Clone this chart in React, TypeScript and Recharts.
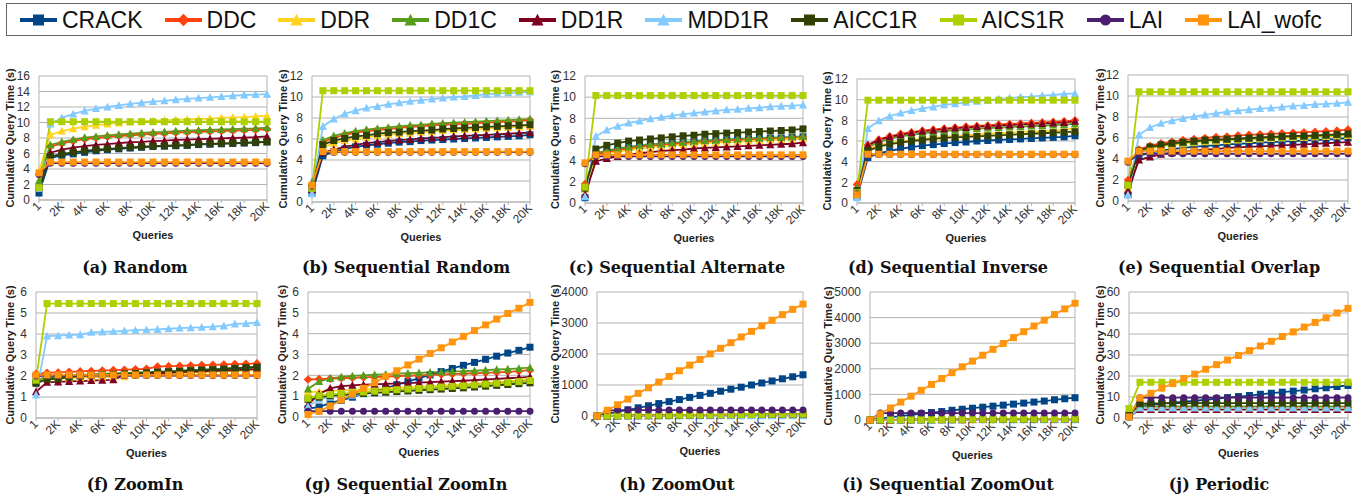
import React from 'react';
import { LineChart, Line, XAxis, YAxis, CartesianGrid, ReferenceLine } from 'recharts';

const queries = ['1','1K','2K','3K','4K','5K','6K','7K','8K','9K','10K','11K','12K','13K','14K','15K','16K','17K','18K','19K','20K'];
const seriesNames = ['CRACK','DDC','DDR','DD1C','DD1R','MDD1R','AICC1R','AICS1R','LAI','LAI_wofc'];
const seriesColors = ['#004586','#ff420e','#ffd320','#579d1c','#7e0021','#83caff','#314004','#aecf00','#4b1f6f','#ff950e'];
const seriesShapes = ['square','diamond','triangle','triangle','triangle','triangle','square','square','circle','square'];
const panelTitles = ['(a) Random','(b) Sequential Random','(c) Sequential Alternate','(d) Sequential Inverse','(e) Sequential Overlap','(f) ZoomIn','(g) Sequential ZoomIn','(h) ZoomOut','(i) Sequential ZoomOut','(j) Periodic'];

const ticks16 = [0,2,4,6,8,10,12,14,16];
const ticks12 = [0,2,4,6,8,10,12];
const ticks6 = [0,1,2,3,4,5,6];
const ticks4000 = [0,1000,2000,3000,4000];
const ticks5000 = [0,1000,2000,3000,4000,5000];
const ticks60 = [0,10,20,30,40,50,60];

// (a) Random
const A_CRACK = [0.9,5.4,5.75,5.95,6.15,6.35,6.5,6.6,6.7,6.8,6.9,6.95,7.0,7.05,7.15,7.2,7.25,7.3,7.35,7.4,7.5];
const A_DDC = [3.3,6.9,7.3,7.6,7.85,8.0,8.15,8.25,8.35,8.45,8.55,8.6,8.7,8.75,8.8,8.85,8.9,8.95,9.0,9.05,9.15];
const A_DDR = [3.7,8.4,8.9,9.2,9.45,9.65,9.8,9.95,10.05,10.15,10.2,10.3,10.35,10.4,10.45,10.5,10.6,10.65,10.7,10.8,10.85];
const A_DD1C = [2.5,7.1,7.5,7.8,8.05,8.2,8.35,8.45,8.55,8.65,8.75,8.8,8.9,8.95,9.0,9.05,9.1,9.15,9.2,9.25,9.35];
const A_DD1R = [1.5,6.1,6.5,6.75,6.95,7.1,7.2,7.35,7.45,7.5,7.6,7.65,7.75,7.8,7.85,7.9,7.95,8.0,8.05,8.1,8.2];
const A_MDD1R = [1.5,9.8,10.6,11.1,11.5,11.8,12.0,12.2,12.4,12.55,12.7,12.8,12.95,13.05,13.15,13.25,13.35,13.45,13.55,13.6,13.65];
const A_AICC1R = [1.6,5.6,5.95,6.15,6.35,6.5,6.6,6.7,6.8,6.9,6.95,7.0,7.05,7.1,7.2,7.25,7.3,7.35,7.4,7.45,7.5];
const A_AICS1R = [1.6,10.1,10.1,10.1,10.1,10.1,10.1,10.1,10.1,10.1,10.1,10.1,10.1,10.1,10.1,10.1,10.1,10.1,10.1,10.1,10.1];
const A_LAI = [3.3,4.75,4.75,4.75,4.75,4.75,4.75,4.75,4.75,4.75,4.75,4.75,4.75,4.75,4.75,4.75,4.75,4.75,4.75,4.75,4.75];
const A_LAIW = [3.5,4.9,4.9,4.9,4.9,4.9,4.9,4.9,4.9,4.9,4.9,4.9,4.9,4.9,4.9,4.9,4.9,4.9,4.9,4.9,4.9];

// (b) Sequential Random
const B_CRACK = [0.8,4.4,4.8,5.05,5.25,5.4,5.5,5.6,5.7,5.75,5.85,5.9,5.95,6.0,6.05,6.1,6.15,6.2,6.25,6.3,6.4];
const B_DDC = [1.7,5.7,6.1,6.4,6.6,6.75,6.85,6.95,7.05,7.15,7.2,7.3,7.35,7.4,7.45,7.5,7.55,7.6,7.65,7.7,7.8];
const B_DDR = [1.5,5.2,5.6,5.85,6.0,6.15,6.3,6.4,6.5,6.55,6.65,6.7,6.8,6.85,6.9,6.95,7.0,7.05,7.1,7.15,7.2];
const B_DD1C = [1.9,5.9,6.3,6.55,6.75,6.9,7.0,7.1,7.2,7.3,7.35,7.45,7.5,7.55,7.6,7.65,7.7,7.75,7.8,7.85,7.9];
const B_DD1R = [1.2,4.7,5.0,5.25,5.45,5.6,5.7,5.8,5.9,5.95,6.05,6.1,6.15,6.25,6.3,6.35,6.4,6.45,6.5,6.55,6.6];
const B_MDD1R = [0.8,7.2,7.9,8.4,8.7,8.95,9.1,9.3,9.45,9.6,9.7,9.8,9.9,10.0,10.05,10.15,10.25,10.35,10.4,10.45,10.5];
const B_AICC1R = [1.4,5.45,5.85,6.05,6.25,6.35,6.5,6.6,6.65,6.75,6.8,6.85,6.95,7.0,7.05,7.1,7.15,7.2,7.25,7.3,7.35];
const B_AICS1R = [1.3,10.6,10.6,10.6,10.6,10.6,10.6,10.6,10.6,10.6,10.6,10.6,10.6,10.6,10.6,10.6,10.6,10.6,10.6,10.6,10.6];
const B_LAI = [1.5,4.75,4.75,4.75,4.75,4.75,4.75,4.75,4.75,4.75,4.75,4.75,4.75,4.75,4.75,4.75,4.75,4.75,4.75,4.75,4.75];
const B_LAIW = [1.6,4.8,4.8,4.8,4.8,4.8,4.8,4.8,4.8,4.8,4.8,4.8,4.8,4.8,4.8,4.8,4.8,4.8,4.8,4.8,4.8];

// (c) Sequential Alternate
const C_CRACK = [0.5,4.6,4.85,5.05,5.2,5.35,5.45,5.5,5.6,5.7,5.75,5.85,5.9,5.95,6.0,6.05,6.1,6.1,6.15,6.2,6.25];
const C_DDC = [1.8,4.6,4.8,5.0,5.15,5.3,5.4,5.5,5.55,5.65,5.7,5.8,5.85,5.9,5.95,6.0,6.05,6.05,6.1,6.15,6.2];
const C_DDR = [1.3,4.4,4.65,4.85,5.0,5.15,5.25,5.35,5.45,5.5,5.6,5.65,5.7,5.75,5.8,5.85,5.9,5.95,6.0,6.05,6.1];
const C_DD1C = [1.6,4.7,4.95,5.15,5.3,5.45,5.55,5.6,5.7,5.75,5.85,5.9,5.95,6.0,6.05,6.1,6.15,6.2,6.2,6.25,6.3];
const C_DD1R = [0.8,3.95,4.2,4.4,4.55,4.7,4.8,4.9,5.0,5.05,5.15,5.2,5.25,5.3,5.35,5.4,5.45,5.5,5.55,5.6,5.7];
const C_MDD1R = [0.6,6.3,6.9,7.25,7.55,7.75,7.95,8.1,8.25,8.4,8.5,8.6,8.7,8.8,8.85,8.95,9.0,9.1,9.15,9.2,9.25];
const C_AICC1R = [1.4,5.1,5.45,5.65,5.85,5.95,6.05,6.15,6.25,6.35,6.4,6.5,6.55,6.6,6.65,6.7,6.75,6.8,6.85,6.9,7.0];
const C_AICS1R = [1.5,10.15,10.15,10.15,10.15,10.15,10.15,10.15,10.15,10.15,10.15,10.15,10.15,10.15,10.15,10.15,10.15,10.15,10.15,10.15,10.15];
const C_LAI = [3.7,4.4,4.4,4.4,4.4,4.4,4.4,4.4,4.4,4.4,4.4,4.4,4.4,4.4,4.4,4.4,4.4,4.4,4.4,4.4,4.4];
const C_LAIW = [3.8,4.55,4.55,4.55,4.55,4.55,4.55,4.55,4.55,4.55,4.55,4.55,4.55,4.55,4.55,4.55,4.55,4.55,4.55,4.55,4.55];

// (d) Sequential Inverse
const D_CRACK = [0.6,4.4,4.8,5.05,5.25,5.4,5.55,5.65,5.75,5.85,5.9,6.0,6.05,6.1,6.15,6.2,6.25,6.3,6.35,6.4,6.5];
const D_DDC = [1.8,5.6,6.15,6.45,6.7,6.85,7.0,7.1,7.2,7.3,7.4,7.45,7.5,7.6,7.65,7.7,7.75,7.8,7.85,7.9,8.0];
const D_DDR = [1.2,5.2,5.6,5.8,5.95,6.1,6.2,6.3,6.4,6.5,6.55,6.65,6.7,6.75,6.8,6.85,6.9,6.95,7.0,7.1,7.2];
const D_DD1C = [1.5,5.4,5.9,6.2,6.45,6.6,6.75,6.85,6.95,7.05,7.1,7.2,7.25,7.3,7.35,7.4,7.45,7.5,7.55,7.6,7.65];
const D_DD1R = [1.1,5.6,6.1,6.4,6.6,6.8,6.95,7.05,7.15,7.25,7.3,7.4,7.45,7.5,7.55,7.6,7.65,7.7,7.75,7.8,7.9];
const D_MDD1R = [0.5,7.2,7.95,8.4,8.7,8.95,9.15,9.3,9.5,9.6,9.75,9.85,9.95,10.05,10.15,10.25,10.3,10.4,10.45,10.55,10.6];
const D_AICC1R = [1.2,5.05,5.45,5.7,5.85,6.0,6.1,6.2,6.3,6.35,6.4,6.45,6.5,6.55,6.6,6.65,6.7,6.75,6.8,6.85,6.9];
const D_AICS1R = [1.0,9.95,9.95,9.95,9.95,9.95,9.95,9.95,9.95,9.95,9.95,9.95,9.95,9.95,9.95,9.95,9.95,9.95,9.95,9.95,9.95];
const D_LAI = [0.9,4.7,4.7,4.7,4.7,4.7,4.7,4.7,4.7,4.7,4.7,4.7,4.7,4.7,4.7,4.7,4.7,4.7,4.7,4.7,4.7];
const D_LAIW = [0.8,4.72,4.72,4.72,4.72,4.72,4.72,4.72,4.72,4.72,4.72,4.72,4.72,4.72,4.72,4.72,4.72,4.72,4.72,4.72,4.72];

// (e) Sequential Overlap
const E_CRACK = [0.6,4.3,4.6,4.8,4.95,5.05,5.15,5.25,5.3,5.4,5.45,5.5,5.55,5.6,5.65,5.7,5.75,5.8,5.85,5.9,6.0];
const E_DDC = [2.0,4.9,5.25,5.5,5.65,5.8,5.9,6.0,6.1,6.15,6.25,6.3,6.35,6.4,6.45,6.5,6.55,6.6,6.65,6.7,6.8];
const E_DDR = [1.2,4.7,5.0,5.2,5.35,5.45,5.55,5.65,5.7,5.75,5.8,5.85,5.9,5.95,6.0,6.05,6.05,6.1,6.15,6.2,6.25];
const E_DD1C = [1.6,4.75,5.1,5.3,5.45,5.55,5.65,5.75,5.8,5.85,5.9,5.95,6.0,6.05,6.1,6.15,6.15,6.2,6.25,6.3,6.35];
const E_DD1R = [1.0,3.9,4.2,4.45,4.6,4.7,4.8,4.9,4.95,5.05,5.1,5.15,5.2,5.25,5.3,5.35,5.4,5.45,5.5,5.55,5.6];
const E_MDD1R = [0.6,6.3,7.0,7.4,7.65,7.85,8.05,8.2,8.35,8.5,8.6,8.7,8.8,8.85,8.95,9.05,9.1,9.2,9.25,9.3,9.4];
const E_AICC1R = [1.5,4.8,5.15,5.35,5.5,5.6,5.7,5.8,5.85,5.9,5.95,6.0,6.05,6.1,6.15,6.2,6.2,6.25,6.3,6.35,6.4];
const E_AICS1R = [1.5,10.4,10.4,10.4,10.4,10.4,10.4,10.4,10.4,10.4,10.4,10.4,10.4,10.4,10.4,10.4,10.4,10.4,10.4,10.4,10.4];
const E_LAI = [3.7,4.5,4.5,4.5,4.5,4.5,4.5,4.5,4.5,4.5,4.5,4.5,4.5,4.5,4.5,4.5,4.5,4.5,4.5,4.5,4.5];
const E_LAIW = [3.8,4.75,4.75,4.75,4.75,4.75,4.75,4.75,4.75,4.75,4.75,4.75,4.75,4.75,4.75,4.75,4.75,4.75,4.75,4.75,4.75];

// (f) ZoomIn
const F_CRACK = [1.7,1.9,1.95,2.0,2.02,2.05,2.07,2.1,2.12,2.15,2.17,2.2,2.22,2.25,2.27,2.3,2.32,2.35,2.37,2.4,2.42];
const F_DDC = [2.1,2.15,2.17,2.2,2.22,2.24,2.26,2.28,2.3,2.32,2.34,2.45,2.47,2.48,2.5,2.52,2.53,2.55,2.57,2.58,2.6];
const F_DDR = [1.8,1.85,1.88,1.9,1.92,1.93,1.95,1.96,1.97,2.05,2.07,2.1,2.12,2.14,2.16,2.18,2.2,2.22,2.24,2.26,2.28];
const F_DD1C = [1.8,1.95,2.0,2.03,2.06,2.08,2.1,2.12,2.14,2.16,2.18,2.2,2.22,2.25,2.28,2.3,2.32,2.35,2.38,2.4,2.43];
const F_DD1R = [1.25,1.7,1.72,1.74,1.76,1.78,1.8,1.82,2.05,2.08,2.1,2.12,2.15,2.18,2.2,2.22,2.24,2.26,2.28,2.3,2.33];
const F_MDD1R = [1.1,3.9,3.92,3.95,3.97,4.08,4.1,4.12,4.15,4.18,4.2,4.22,4.25,4.28,4.3,4.32,4.35,4.38,4.48,4.5,4.55];
const F_AICC1R = [1.65,1.85,1.87,1.95,2.0,2.05,2.07,2.08,2.1,2.12,2.15,2.18,2.2,2.22,2.25,2.28,2.3,2.33,2.36,2.4,2.42];
const F_AICS1R = [1.8,5.45,5.45,5.45,5.45,5.45,5.45,5.45,5.45,5.45,5.45,5.45,5.45,5.45,5.45,5.45,5.45,5.45,5.45,5.45,5.45];
const F_LAI = [2.0,2.02,2.02,2.02,2.02,2.02,2.02,2.02,2.02,2.02,2.02,2.02,2.02,2.02,2.02,2.02,2.02,2.02,2.02,2.02,2.02];
const F_LAIW = [2.05,2.05,2.05,2.05,2.05,2.05,2.05,2.05,2.05,2.05,2.05,2.05,2.05,2.05,2.05,2.05,2.05,2.05,2.05,2.05,2.05];

// (g) Sequential ZoomIn
const G_CRACK = [0.4,0.48,0.68,0.8,0.95,1.13,1.25,1.38,1.55,1.7,1.87,2.02,2.18,2.33,2.48,2.62,2.77,2.92,3.07,3.2,3.35];
const G_DDC = [1.8,1.82,1.84,1.86,1.88,1.9,1.92,1.94,1.96,1.98,2.0,2.02,2.04,2.06,2.08,2.1,2.12,2.14,2.17,2.2,2.25];
const G_DDR = [1.2,1.22,1.25,1.28,1.3,1.32,1.35,1.38,1.4,1.43,1.45,1.48,1.51,1.54,1.57,1.6,1.63,1.67,1.71,1.76,1.82];
const G_DD1C = [1.35,1.7,1.85,1.92,1.97,2.0,2.03,2.05,2.08,2.1,2.12,2.14,2.16,2.18,2.2,2.22,2.25,2.28,2.3,2.33,2.37];
const G_DD1R = [0.6,1.1,1.38,1.48,1.52,1.55,1.57,1.59,1.61,1.63,1.65,1.67,1.7,1.72,1.74,1.77,1.8,1.83,1.86,1.89,1.93];
const G_MDD1R = [0.5,0.85,0.95,1.0,1.05,1.1,1.15,1.2,1.24,1.28,1.32,1.36,1.4,1.44,1.48,1.52,1.56,1.6,1.64,1.68,1.72];
const G_AICC1R = [0.85,0.95,1.02,1.06,1.1,1.13,1.16,1.19,1.22,1.25,1.28,1.31,1.34,1.37,1.4,1.44,1.48,1.52,1.56,1.6,1.64];
const G_AICS1R = [0.9,1.02,1.08,1.12,1.16,1.2,1.24,1.28,1.31,1.34,1.37,1.4,1.44,1.47,1.5,1.54,1.58,1.62,1.66,1.7,1.75];
const G_LAI = [0.28,0.28,0.28,0.28,0.28,0.28,0.28,0.28,0.28,0.28,0.28,0.28,0.28,0.28,0.28,0.28,0.28,0.28,0.28,0.28,0.28];
const G_LAIW = [0.12,0.27,0.53,0.82,1.1,1.38,1.65,1.95,2.22,2.5,2.78,3.05,3.32,3.6,3.87,4.15,4.42,4.7,4.97,5.22,5.5];

// (h) ZoomOut
const H_CRACK = [0,70,135,200,265,330,400,465,530,600,665,730,800,865,930,1000,1065,1130,1200,1265,1330];
const H_DDC = [0,4,7,10,12,15,17,19,21,24,26,28,30,33,35,37,39,41,43,46,48];
const H_DDR = [0,3,5,7,9,11,12,14,16,18,19,21,23,25,26,28,30,32,33,35,37];
const H_DD1C = [0,6,10,13,16,19,22,25,28,31,34,37,40,42,45,48,51,54,57,60,62];
const H_DD1R = [0,4,6,8,10,12,14,16,18,20,22,24,26,28,30,32,33,35,37,39,41];
const H_MDD1R = [0,1,2,2,3,3,4,4,5,5,6,6,7,7,8,8,9,9,10,10,11];
const H_AICC1R = [0,5,9,12,15,18,21,24,27,30,33,36,39,41,44,47,50,53,56,58,61];
const H_AICS1R = [0,6,10,14,17,20,23,26,29,32,35,38,41,44,47,50,53,56,59,62,65];
const H_LAI = [0,170,190,190,190,190,190,190,190,190,190,190,190,190,190,190,190,190,190,190,190];
const H_LAIW = [0,185,365,545,730,910,1095,1275,1460,1640,1825,2005,2185,2365,2550,2730,2910,3090,3270,3440,3610];

// (i) Sequential ZoomOut
const I_CRACK = [0,50,110,150,200,250,290,330,380,420,460,500,540,580,620,660,700,740,790,830,870];
const I_DDC = [0,3,5,7,8,10,11,13,14,16,17,19,20,22,23,25,26,28,29,31,32];
const I_DDR = [0,2,4,5,6,8,9,10,11,13,14,15,16,18,19,20,21,23,24,25,26];
const I_DD1C = [0,4,6,8,10,12,14,16,18,20,21,23,25,27,29,31,33,35,36,38,40];
const I_DD1R = [0,3,4,6,7,9,10,11,13,14,15,17,18,19,21,22,23,25,26,27,29];
const I_MDD1R = [0,1,1,2,2,3,3,4,4,5,5,5,6,6,7,7,8,8,8,9,9];
const I_AICC1R = [0,4,7,9,11,13,15,17,19,21,23,25,27,29,31,33,35,37,39,41,43];
const I_AICS1R = [0,5,8,10,12,14,16,18,20,22,24,26,28,30,32,34,36,38,40,42,44];
const I_LAI = [0,270,270,270,270,270,270,270,270,270,270,270,270,270,270,270,270,270,270,270,270];
const I_LAIW = [0,240,470,700,930,1160,1390,1620,1850,2080,2300,2530,2760,2990,3220,3450,3670,3900,4120,4340,4560];

// (j) Periodic
const J_CRACK = [1.2,5.8,6.3,6.8,7.3,7.8,8.2,8.7,9.2,9.7,10.2,10.7,11.3,11.8,12.3,12.8,13.3,13.9,14.4,15.0,15.5];
const J_DDC = [1.0,5.0,5.0,5.0,5.0,5.0,5.0,5.0,5.0,5.0,5.0,5.0,5.0,5.0,5.0,5.0,5.0,5.0,5.0,5.0,5.0];
const J_DDR = [0.8,5.2,5.2,5.2,5.2,5.2,5.2,5.2,5.2,5.2,5.2,5.2,5.2,5.2,5.2,5.2,5.2,5.2,5.2,5.2,5.2];
const J_DD1C = [1.0,5.5,5.5,5.5,5.5,5.5,5.5,5.5,5.5,5.5,5.5,5.5,5.5,5.5,5.5,5.5,5.5,5.5,5.5,5.5,5.5];
const J_DD1R = [0.6,4.0,4.0,4.0,4.0,4.0,4.0,4.0,4.0,4.0,4.0,4.0,4.0,4.0,4.0,4.0,4.0,4.0,4.0,4.0,4.0];
const J_MDD1R = [0.5,4.8,4.8,4.8,4.8,4.8,4.8,4.8,4.8,4.8,4.8,4.8,4.8,4.8,4.8,4.8,4.8,4.8,4.8,4.8,4.8];
const J_AICC1R = [1.5,6.8,7.0,7.0,7.1,7.1,7.1,7.1,7.1,7.1,7.1,7.1,7.1,7.1,7.1,7.1,7.1,7.1,7.1,7.1,7.1];
const J_AICS1R = [4.5,17.0,17.0,17.0,17.0,17.0,17.0,17.0,17.0,17.0,17.0,17.0,17.0,17.0,17.0,17.0,17.0,17.0,17.0,17.0,17.0];
const J_LAI = [0.5,9.7,9.7,9.7,9.7,9.7,9.7,9.7,9.7,9.7,9.7,9.7,9.7,9.7,9.7,9.7,9.7,9.7,9.7,9.7,9.7];
const J_LAIW = [0.5,9.5,11.8,14.2,16.4,18.8,20.9,23.2,25.4,27.6,29.8,32.1,34.3,36.5,38.8,41.0,43.3,45.5,47.7,50.0,52.2];

const panelSeries = [
  [A_CRACK,A_DDC,A_DDR,A_DD1C,A_DD1R,A_MDD1R,A_AICC1R,A_AICS1R,A_LAI,A_LAIW],
  [B_CRACK,B_DDC,B_DDR,B_DD1C,B_DD1R,B_MDD1R,B_AICC1R,B_AICS1R,B_LAI,B_LAIW],
  [C_CRACK,C_DDC,C_DDR,C_DD1C,C_DD1R,C_MDD1R,C_AICC1R,C_AICS1R,C_LAI,C_LAIW],
  [D_CRACK,D_DDC,D_DDR,D_DD1C,D_DD1R,D_MDD1R,D_AICC1R,D_AICS1R,D_LAI,D_LAIW],
  [E_CRACK,E_DDC,E_DDR,E_DD1C,E_DD1R,E_MDD1R,E_AICC1R,E_AICS1R,E_LAI,E_LAIW],
  [F_CRACK,F_DDC,F_DDR,F_DD1C,F_DD1R,F_MDD1R,F_AICC1R,F_AICS1R,F_LAI,F_LAIW],
  [G_CRACK,G_DDC,G_DDR,G_DD1C,G_DD1R,G_MDD1R,G_AICC1R,G_AICS1R,G_LAI,G_LAIW],
  [H_CRACK,H_DDC,H_DDR,H_DD1C,H_DD1R,H_MDD1R,H_AICC1R,H_AICS1R,H_LAI,H_LAIW],
  [I_CRACK,I_DDC,I_DDR,I_DD1C,I_DD1R,I_MDD1R,I_AICC1R,I_AICS1R,I_LAI,I_LAIW],
  [J_CRACK,J_DDC,J_DDR,J_DD1C,J_DD1R,J_MDD1R,J_AICC1R,J_AICS1R,J_LAI,J_LAIW],
];
const panelTicks = [ticks16,ticks12,ticks12,ticks12,ticks12,ticks6,ticks6,ticks4000,ticks5000,ticks60];

// layout (page px): plot left/right/top/bottom, y-label x
const layouts = [
  { PL: 39, PR: 267, PT: 76, PB: 200, LX: 10 },
  { PL: 312, PR: 530, PT: 76, PB: 202, LX: 283 },
  { PL: 585, PR: 803, PT: 76, PB: 203, LX: 555 },
  { PL: 857, PR: 1075, PT: 79, PB: 203, LX: 827 },
  { PL: 1128, PR: 1348, PT: 75, PB: 201, LX: 1100 },
  { PL: 36, PR: 257, PT: 292, PB: 418, LX: 10 },
  { PL: 308, PR: 530, PT: 292, PB: 417, LX: 282 },
  { PL: 597, PR: 803, PT: 292, PB: 416, LX: 555 },
  { PL: 870, PR: 1075, PT: 292, PB: 420, LX: 828 },
  { PL: 1129, PR: 1348, PT: 292, PB: 418, LX: 1100 },
];

const SANS = "'Liberation Sans', Arial, sans-serif";
const SERIF = "'DejaVu Serif', serif";
const GRID = '#b3b3b3';

function Marker({ cx, cy, shape, color, size }: any) {
  if (cx == null || cy == null || isNaN(cx) || isNaN(cy)) return null;
  const h = size / 2;
  if (shape === 'square') return <rect x={cx - h} y={cy - h} width={size} height={size} fill={color} />;
  if (shape === 'diamond') return <polygon points={`${cx},${cy - h - 0.8} ${cx + h + 0.8},${cy} ${cx},${cy + h + 0.8} ${cx - h - 0.8},${cy}`} fill={color} />;
  if (shape === 'triangle') return <polygon points={`${cx},${cy - h - 0.8} ${cx + h + 0.6},${cy + h} ${cx - h - 0.6},${cy + h}`} fill={color} />;
  return <circle cx={cx} cy={cy} r={h} fill={color} />;
}

const XTick = (props: any) => {
  const { x, y, payload } = props;
  return (
    <text x={x} y={y} dy={4} textAnchor="end" transform={`rotate(-45 ${x} ${y})`} fontSize={12} fill="#333" fontFamily={SANS}>
      {payload.value}
    </text>
  );
};

function Panel({ idx }: { idx: number }) {
  const L = layouts[idx];
  const series = panelSeries[idx];
  const ticks = panelTicks[idx];
  const data = queries.map((q, i) => {
    const row: any = { q };
    series.forEach((s, k) => { row['s' + k] = s[i]; });
    return row;
  });
  const YW = L.PL - L.LX + 6;
  const CL = L.PL - YW - 5;
  const CT = L.PT - 8;
  const XH = 42;
  const width = L.PR - CL + 6;
  const height = L.PB - CT + XH + 2;
  return (
    <div style={{ position: 'absolute', left: CL, top: CT }}>
      <LineChart width={width} height={height} data={data} margin={{ top: 8, right: 6, bottom: 2, left: 5 }}>
        <CartesianGrid vertical={false} stroke={GRID} />
        <XAxis
          dataKey="q"
          interval={1}
          tick={<XTick />}
          tickSize={3}
          tickMargin={1}
          tickLine={{ stroke: GRID }}
          axisLine={{ stroke: GRID }}
          height={XH}
          label={{ value: 'Queries', position: 'insideBottom', offset: 3, style: { fontSize: 11, fontWeight: 'bold', fill: '#222', fontFamily: SANS } }}
        />
        <YAxis
          domain={[0, ticks[ticks.length - 1]]}
          ticks={ticks}
          interval={0}
          width={YW}
          tickLine={false}
          tickMargin={3}
          axisLine={{ stroke: GRID }}
          tick={{ fontSize: 12, fill: '#333', fontFamily: SANS }}
          label={{ value: 'Cumulative Query Time (s)', angle: -90, position: 'insideLeft', offset: 6, style: { textAnchor: 'middle', fontSize: 11, fontWeight: 'bold', fill: '#222', fontFamily: SANS } }}
        />
        <ReferenceLine x="20K" stroke={GRID} />
        {series.map((_, k) => (
          <Line
            key={k}
            type="linear"
            dataKey={'s' + k}
            stroke={seriesColors[k]}
            strokeWidth={1.8}
            activeDot={false}
            isAnimationActive={false}
            dot={(p: any) => <Marker key={`d${k}-${p.index}`} cx={p.cx} cy={p.cy} shape={seriesShapes[k]} color={seriesColors[k]} size={7} />}
          />
        ))}
      </LineChart>
    </div>
  );
}

function Legend() {
  return (
    <div style={{ position: 'absolute', left: 6, top: 3, width: 1346, height: 33, border: '1px solid #666', boxSizing: 'border-box', display: 'flex', alignItems: 'center', paddingLeft: 13, gap: 22, fontFamily: SANS, fontSize: 23, color: '#111', background: '#fff' }}>
      {seriesNames.map((n, k) => (
        <div key={n} style={{ display: 'flex', alignItems: 'center', whiteSpace: 'nowrap' }}>
          <svg width={37} height={24}>
            <line x1={0} y1={12} x2={37} y2={12} stroke={seriesColors[k]} strokeWidth={4} />
            <Marker cx={18.5} cy={12} shape={seriesShapes[k]} color={seriesColors[k]} size={11} />
          </svg>
          <span style={{ marginLeft: 5, lineHeight: '26px' }}>{n}</span>
        </div>
      ))}
    </div>
  );
}

export default function App() {
  return (
    <div style={{ position: 'absolute', left: 0, top: 0, width: 1359, height: 502, background: '#fff', overflow: 'hidden' }}>
      <Legend />
      {layouts.map((_, i) => <Panel key={i} idx={i} />)}
      {panelTitles.map((t, i) => (
        <div key={t} style={{ position: 'absolute', left: (i % 5) * 271, top: i < 5 ? 258 : 475, width: 270, textAlign: 'center', fontFamily: SERIF, fontWeight: 'bold', fontSize: 16, lineHeight: '20px', color: '#111' }}>
          {t}
        </div>
      ))}
    </div>
  );
}
